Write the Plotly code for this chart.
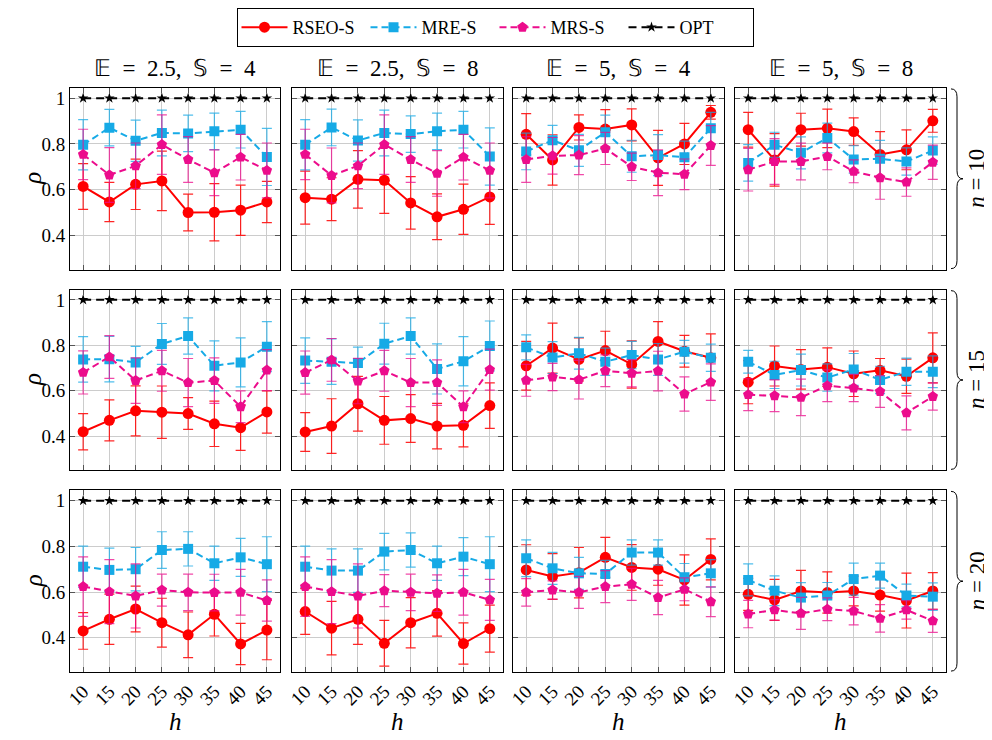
import plotly.graph_objects as go

H = [10, 15, 20, 25, 30, 35, 40, 45]
SP = "\u2002"
COL_TITLES = [f"𝔼{SP}={SP}2.5,{SP}𝕊{SP}={SP}4", f"𝔼{SP}={SP}2.5,{SP}𝕊{SP}={SP}8",
              f"𝔼{SP}={SP}5,{SP}𝕊{SP}={SP}4", f"𝔼{SP}={SP}5,{SP}𝕊{SP}={SP}8"]
ROW_N = ["10", "15", "20"]
Y_TICKS = [0.4, 0.6, 0.8, 1.0]
Y_TICKTEXT = ["0.4", "0.6", "0.8", "1"]

# ---- n = 10 ----
RSEO_N10 = [[0.614, 0.546, 0.623, 0.638, 0.500, 0.501, 0.510, 0.546],
            [0.565, 0.558, 0.645, 0.641, 0.542, 0.481, 0.514, 0.568],
            [0.842, 0.730, 0.872, 0.865, 0.883, 0.739, 0.800, 0.938],
            [0.862, 0.730, 0.862, 0.868, 0.854, 0.754, 0.774, 0.901]]
RSEO_N10_ERR = [[0.10, 0.086, 0.11, 0.13, 0.08, 0.125, 0.11, 0.09],
                [0.116, 0.094, 0.126, 0.145, 0.115, 0.10, 0.11, 0.12],
                [0.09, 0.11, 0.055, 0.085, 0.07, 0.12, 0.09, 0.03],
                [0.076, 0.115, 0.072, 0.084, 0.06, 0.10, 0.087, 0.05]]
MRE_N10 = [[0.796, 0.871, 0.814, 0.848, 0.846, 0.855, 0.862, 0.743],
           [0.796, 0.872, 0.815, 0.848, 0.843, 0.855, 0.862, 0.745],
           [0.767, 0.816, 0.772, 0.851, 0.746, 0.751, 0.742, 0.868],
           [0.717, 0.796, 0.761, 0.826, 0.732, 0.735, 0.723, 0.771]]
MRE_N10_ERR = [[0.11, 0.08, 0.09, 0.10, 0.08, 0.08, 0.08, 0.125],
               [0.11, 0.08, 0.09, 0.10, 0.08, 0.08, 0.08, 0.125],
               [0.08, 0.065, 0.07, 0.075, 0.07, 0.09, 0.07, 0.07],
               [0.08, 0.055, 0.07, 0.065, 0.06, 0.08, 0.06, 0.06]]
MRS_N10 = [[0.754, 0.664, 0.704, 0.797, 0.732, 0.674, 0.742, 0.684],
           [0.754, 0.662, 0.704, 0.797, 0.732, 0.671, 0.742, 0.684],
           [0.732, 0.748, 0.751, 0.780, 0.700, 0.674, 0.667, 0.793],
           [0.687, 0.723, 0.723, 0.745, 0.680, 0.652, 0.633, 0.720]]
MRS_N10_ERR = [[0.11, 0.12, 0.10, 0.13, 0.10, 0.10, 0.10, 0.12],
               [0.11, 0.12, 0.10, 0.13, 0.10, 0.10, 0.10, 0.12],
               [0.10, 0.08, 0.085, 0.07, 0.06, 0.10, 0.067, 0.087],
               [0.093, 0.10, 0.08, 0.058, 0.05, 0.094, 0.062, 0.075]]

# ---- n = 15 ----
RSEO_N15 = [[0.420, 0.470, 0.512, 0.506, 0.500, 0.455, 0.438, 0.507],
            [0.419, 0.445, 0.543, 0.470, 0.478, 0.445, 0.448, 0.535],
            [0.710, 0.788, 0.738, 0.777, 0.716, 0.817, 0.774, 0.745],
            [0.638, 0.709, 0.694, 0.704, 0.675, 0.690, 0.664, 0.745]]
RSEO_N15_ERR = [[0.08, 0.09, 0.11, 0.115, 0.07, 0.10, 0.10, 0.093],
                [0.085, 0.12, 0.12, 0.105, 0.105, 0.10, 0.095, 0.10],
                [0.107, 0.11, 0.095, 0.085, 0.104, 0.087, 0.07, 0.105],
                [0.095, 0.088, 0.087, 0.085, 0.10, 0.052, 0.075, 0.11]]
MRE_N15 = [[0.738, 0.739, 0.725, 0.806, 0.841, 0.710, 0.725, 0.794],
           [0.733, 0.728, 0.722, 0.807, 0.841, 0.696, 0.730, 0.797],
           [0.791, 0.746, 0.765, 0.728, 0.757, 0.738, 0.772, 0.745],
           [0.728, 0.670, 0.691, 0.658, 0.694, 0.648, 0.684, 0.684]]
MRE_N15_ERR = [[0.10, 0.10, 0.07, 0.09, 0.08, 0.11, 0.108, 0.11],
               [0.10, 0.10, 0.07, 0.09, 0.08, 0.11, 0.108, 0.11],
               [0.055, 0.07, 0.07, 0.06, 0.06, 0.07, 0.05, 0.06],
               [0.05, 0.06, 0.07, 0.06, 0.07, 0.06, 0.06, 0.07]]
MRS_N15 = [[0.681, 0.749, 0.645, 0.688, 0.636, 0.645, 0.530, 0.691],
           [0.680, 0.736, 0.643, 0.688, 0.636, 0.636, 0.530, 0.693],
           [0.646, 0.661, 0.649, 0.688, 0.677, 0.687, 0.586, 0.638],
           [0.583, 0.578, 0.571, 0.622, 0.612, 0.597, 0.503, 0.575]]
MRS_N15_ERR = [[0.095, 0.094, 0.10, 0.09, 0.106, 0.10, 0.07, 0.09],
               [0.095, 0.094, 0.10, 0.09, 0.106, 0.10, 0.07, 0.09],
               [0.07, 0.06, 0.085, 0.07, 0.06, 0.087, 0.075, 0.08],
               [0.07, 0.07, 0.08, 0.07, 0.06, 0.07, 0.075, 0.06]]

# ---- n = 20 ----
RSEO_N20 = [[0.430, 0.481, 0.526, 0.466, 0.413, 0.503, 0.373, 0.434],
            [0.515, 0.442, 0.481, 0.376, 0.466, 0.507, 0.375, 0.440],
            [0.697, 0.668, 0.685, 0.752, 0.708, 0.700, 0.653, 0.743],
            [0.590, 0.566, 0.605, 0.598, 0.605, 0.587, 0.563, 0.605]]
RSEO_N20_ERR = [[0.08, 0.11, 0.10, 0.107, 0.10, 0.095, 0.09, 0.13],
                [0.10, 0.117, 0.11, 0.10, 0.11, 0.10, 0.09, 0.103],
                [0.11, 0.10, 0.11, 0.087, 0.10, 0.07, 0.11, 0.09],
                [0.07, 0.09, 0.09, 0.09, 0.065, 0.07, 0.12, 0.08]]
MRE_N20 = [[0.711, 0.697, 0.700, 0.784, 0.789, 0.726, 0.752, 0.722],
           [0.711, 0.694, 0.694, 0.777, 0.784, 0.726, 0.755, 0.722],
           [0.748, 0.704, 0.682, 0.679, 0.773, 0.773, 0.665, 0.682],
           [0.653, 0.606, 0.576, 0.585, 0.657, 0.672, 0.585, 0.580]]
MRE_N20_ERR = [[0.09, 0.095, 0.095, 0.08, 0.075, 0.075, 0.083, 0.12],
               [0.09, 0.095, 0.095, 0.08, 0.075, 0.075, 0.083, 0.12],
               [0.08, 0.07, 0.07, 0.06, 0.055, 0.055, 0.06, 0.06],
               [0.07, 0.065, 0.065, 0.057, 0.07, 0.055, 0.05, 0.06]]
MRS_N20 = [[0.624, 0.602, 0.583, 0.609, 0.599, 0.598, 0.599, 0.563],
           [0.624, 0.602, 0.583, 0.606, 0.599, 0.595, 0.599, 0.566],
           [0.599, 0.609, 0.599, 0.624, 0.634, 0.576, 0.612, 0.558],
           [0.504, 0.522, 0.507, 0.525, 0.517, 0.485, 0.522, 0.474]]
MRS_N20_ERR = [[0.13, 0.14, 0.14, 0.07, 0.08, 0.08, 0.10, 0.09],
               [0.13, 0.14, 0.14, 0.07, 0.08, 0.08, 0.10, 0.09],
               [0.06, 0.04, 0.07, 0.07, 0.07, 0.075, 0.05, 0.065],
               [0.06, 0.045, 0.07, 0.05, 0.06, 0.06, 0.04, 0.05]]

OPT = [1, 1, 1, 1, 1, 1, 1, 1]

RSEO = [RSEO_N10, RSEO_N15, RSEO_N20]
RSEO_ERR = [RSEO_N10_ERR, RSEO_N15_ERR, RSEO_N20_ERR]
MRE = [MRE_N10, MRE_N15, MRE_N20]
MRE_ERR = [MRE_N10_ERR, MRE_N15_ERR, MRE_N20_ERR]
MRS = [MRS_N10, MRS_N15, MRS_N20]
MRS_ERR = [MRS_N10_ERR, MRS_N15_ERR, MRS_N20_ERR]

# ---- layout geometry (page pixels) ----
W, HT = 992, 740
PAGE_OFF = 8  # default body margin of the page holding the figure
X_PX = [(70, 280), (292, 503), (513, 724), (735, 946)]
Y_PX = [(87, 269), (289, 470), (490, 672)]
FONT = "Liberation Serif"

RED = "#ff0000"
BLUE = "#16aae6"
MAG = "#ec0c8c"


def px(x):
    return (x - PAGE_OFF) / W


def py(y):
    return 1 - (y - PAGE_OFF) / HT


fig = go.Figure()

series = [
    ("RSEO-S", RSEO, RSEO_ERR, RED, "solid", "circle", 11, "rgba(255,0,0,0.85)"),
    ("MRE-S", MRE, MRE_ERR, BLUE, "7px,4px", "square", 10, "rgba(22,170,230,0.75)"),
    ("MRS-S", MRS, MRS_ERR, MAG, "7px,4px", "pentagon", 11, "rgba(236,12,140,0.75)"),
]

layout_axes = {}
for r in range(3):
    for c in range(4):
        idx = r * 4 + c + 1
        sfx = "" if idx == 1 else str(idx)
        xref = "x" + sfx
        yref = "y" + sfx
        for name, data, err, col, dash, sym, msize, ecol in series:
            fig.add_trace(go.Scatter(
                x=H, y=data[r][c], xaxis=xref, yaxis=yref,
                mode="lines+markers", name=name, legendgroup=name,
                showlegend=(idx == 1),
                line=dict(color=col, width=2, dash=dash),
                marker=dict(symbol=sym, size=msize, color=col),
                error_y=dict(type="data", array=err[r][c], color=ecol,
                             thickness=1.2, width=5),
            ))
        fig.add_trace(go.Scatter(
            x=H, y=OPT, xaxis=xref, yaxis=yref,
            mode="lines+markers", name="OPT", legendgroup="OPT",
            showlegend=(idx == 1),
            line=dict(color="black", width=2, dash="8px,5px"),
            marker=dict(symbol="star", size=8, color="black"),
        ))
        x0, x1 = X_PX[c]
        y0, y1 = Y_PX[r]
        layout_axes["xaxis" + sfx] = dict(
            domain=[px(x0), px(x1)], range=[7.5, 47.5], anchor=yref,
            tickvals=H, ticktext=[str(h) for h in H], tickangle=-45,
            showticklabels=(r == 2),
            showgrid=True, gridcolor="#cccccc", gridwidth=1,
            showline=True, linecolor="black", linewidth=1, mirror="ticks",
            ticks="inside", ticklen=5, tickcolor="#555555", tickwidth=1,
            zeroline=False, automargin=False,
            tickfont=dict(family=FONT, size=19, color="black"),
        )
        layout_axes["yaxis" + sfx] = dict(
            domain=[py(y1), py(y0)], range=[0.25, 1.045], anchor=xref,
            tickvals=Y_TICKS, ticktext=Y_TICKTEXT,
            showticklabels=(c == 0),
            showgrid=True, gridcolor="#cccccc", gridwidth=1,
            showline=True, linecolor="black", linewidth=1, mirror="ticks",
            ticks="inside", ticklen=5, tickcolor="#555555", tickwidth=1,
            zeroline=False, automargin=False,
            tickfont=dict(family=FONT, size=19, color="black"),
        )

annotations = []
for c in range(4):
    xc = (X_PX[c][0] + X_PX[c][1]) / 2
    annotations.append(dict(text=COL_TITLES[c], x=px(xc), y=py(68), xref="paper", yref="paper",
                            showarrow=False, xanchor="center", yanchor="middle",
                            font=dict(family=FONT, size=23, color="black")))
    annotations.append(dict(text="<i>h</i>", x=px(xc), y=py(721), xref="paper", yref="paper",
                            showarrow=False, xanchor="center", yanchor="middle",
                            font=dict(family=FONT, size=25, color="black")))

shapes = []
for r in range(3):
    t, b = Y_PX[r]
    t += 1
    b -= 1
    m = (t + b) / 2
    annotations.append(dict(text="<i>ρ</i>", x=px(33), y=py(m), xref="paper", yref="paper",
                            showarrow=False, xanchor="center", yanchor="middle", textangle=-90,
                            font=dict(family=FONT, size=25, color="black")))
    annotations.append(dict(text="<i>n</i> = " + ROW_N[r], x=px(977), y=py(m), xref="paper",
                            yref="paper", showarrow=False, xanchor="center", yanchor="middle",
                            textangle=-90, font=dict(family=FONT, size=23, color="black")))
    xa, xm, xt = 951, 957, 963
    path = (f"M {px(xa)},{py(t)} Q {px(xm)},{py(t)} {px(xm)},{py(t + 8)} "
            f"L {px(xm)},{py(m - 8)} Q {px(xm)},{py(m)} {px(xt)},{py(m)} "
            f"Q {px(xm)},{py(m)} {px(xm)},{py(m + 8)} "
            f"L {px(xm)},{py(b - 8)} Q {px(xm)},{py(b)} {px(xa)},{py(b)}")
    shapes.append(dict(type="path", path=path, xref="paper", yref="paper",
                       line=dict(color="black", width=1)))

fig.update_layout(
    width=W, height=HT,
    template="none",
    margin=dict(l=0, r=0, t=0, b=0),
    paper_bgcolor="white", plot_bgcolor="white",
    showlegend=True,
    legend=dict(orientation="h", x=px(495), xanchor="center", y=py(7), yanchor="top",
                bordercolor="black", borderwidth=1, bgcolor="white",
                font=dict(family=FONT, size=18, color="black"),
                entrywidth=68, entrywidthmode="pixels", itemwidth=46,
                tracegroupgap=0),
    annotations=annotations,
    shapes=shapes,
    **layout_axes,
)

fig.write_html("out.html")
